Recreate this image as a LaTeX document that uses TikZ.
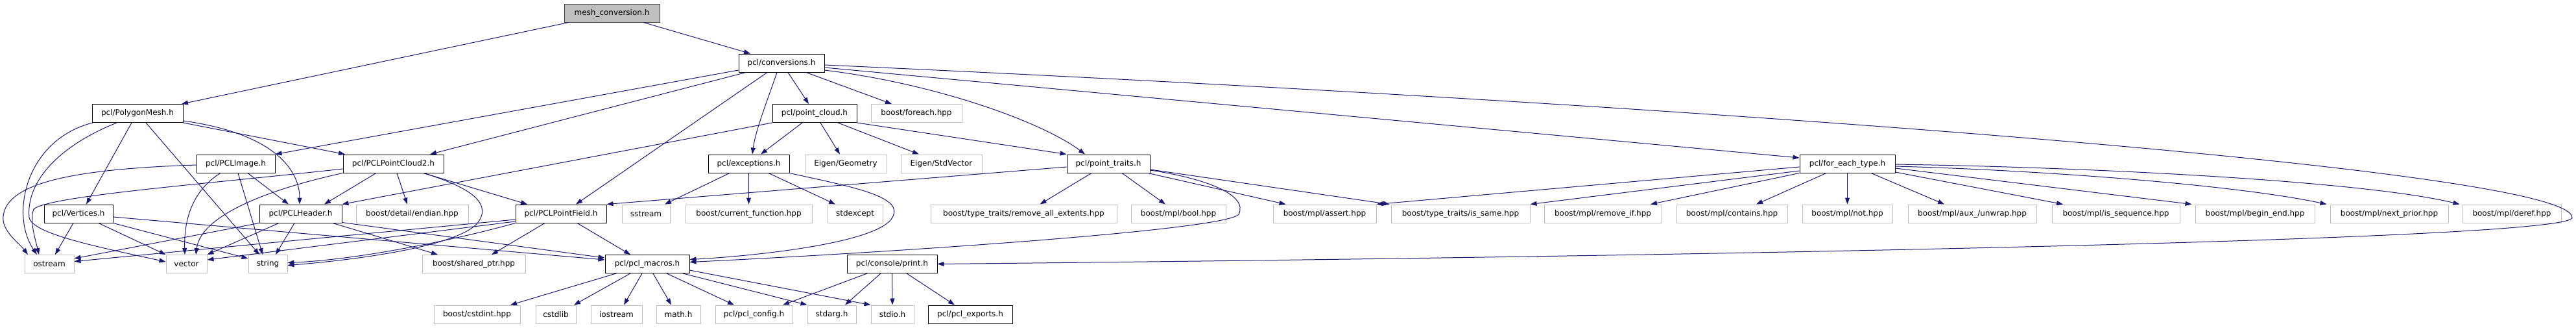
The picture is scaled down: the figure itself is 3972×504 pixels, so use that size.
\documentclass[tikz,border=0pt]{standalone}
\usepackage{fontspec}
\setmainfont{DejaVu Sans}
\usetikzlibrary{arrows.meta}
\definecolor{linkblue}{RGB}{25,25,112}
\definecolor{extgray}{RGB}{191,191,191}
\definecolor{docgray}{RGB}{64,64,64}
\tikzset{
  file/.style={draw, line width=1pt, inner sep=0pt, minimum height=28pt, font=\fontsize{12}{14}\selectfont},
  docfile/.style={file, draw=black},
  extfile/.style={file, draw=extgray},
  mainfile/.style={file, draw=docgray, fill=extgray},
  inclink/.style={draw=linkblue, line width=1pt, -{Triangle[length=10pt,width=7pt]}},
}
\begin{document}
\begin{tikzpicture}[x=1pt,y=-1pt]
\useasboundingbox (0,0) rectangle (3972,504);
% row 0 and 1
\node[mainfile, minimum width=147pt] (meshconv) at (943.5,20) {mesh\_conversion.h};
\node[docfile, minimum width=132pt] (conv) at (1205,97) {pcl/conversions.h};
% row 2
\node[docfile, minimum width=140pt] (polymesh) at (212,174.5) {pcl/PolygonMesh.h};
\node[docfile, minimum width=130pt] (ptcloud) at (1256,174.5) {pcl/point\_cloud.h};
\node[extfile, minimum width=140pt] (foreach) at (1413,174.5) {boost/foreach.hpp};
% row 3
\node[docfile, minimum width=121pt] (pclimage) at (363.5,252) {pcl/PCLImage.h};
\node[docfile, minimum width=155pt] (pcd2) at (606.5,252) {pcl/PCLPointCloud2.h};
\node[docfile, minimum width=125pt] (except) at (1154.5,252) {pcl/exceptions.h};
\node[extfile, minimum width=126pt] (eigengeo) at (1304,252) {Eigen/Geometry};
\node[extfile, minimum width=125pt] (eigenvec) at (1451.5,252) {Eigen/StdVector};
\node[docfile, minimum width=128pt] (ptraits) at (1709,252) {pcl/point\_traits.h};
\node[docfile, minimum width=147pt] (foreachtype) at (2848.5,252) {pcl/for\_each\_type.h};
% row 4
\node[docfile, minimum width=106pt] (vertices) at (121,329) {pcl/Vertices.h};
\node[docfile, minimum width=127pt] (header) at (463.5,329) {pcl/PCLHeader.h};
\node[extfile, minimum width=173pt] (endian) at (635.5,329) {boost/detail/endian.hpp};
\node[docfile, minimum width=140pt] (field) at (865,329) {pcl/PCLPointField.h};
\node[extfile, minimum width=74pt] (sstream) at (996,329) {sstream};
\node[extfile, minimum width=195pt] (curfunc) at (1154.5,329) {boost/current\_function.hpp};
\node[extfile, minimum width=85pt] (stdexcept) at (1318.5,329) {stdexcept};
\node[extfile, minimum width=287pt] (rmext) at (1578.5,329) {boost/type\_traits/remove\_all\_extents.hpp};
\node[extfile, minimum width=146pt] (mplbool) at (1817,329) {boost/mpl/bool.hpp};
\node[extfile, minimum width=159pt] (mplassert) at (2042.5,329) {boost/mpl/assert.hpp};
\node[extfile, minimum width=214pt] (issame) at (2252,329) {boost/type\_traits/is\_same.hpp};
\node[extfile, minimum width=181pt] (rmif) at (2471.5,329) {boost/mpl/remove\_if.hpp};
\node[extfile, minimum width=171pt] (contains) at (2670.5,329) {boost/mpl/contains.hpp};
\node[extfile, minimum width=139pt] (mplnot) at (2848.5,329) {boost/mpl/not.hpp};
\node[extfile, minimum width=198pt] (unwrap) at (3041,329) {boost/mpl/aux\_/unwrap.hpp};
\node[extfile, minimum width=197pt] (isseq) at (3262.5,329) {boost/mpl/is\_sequence.hpp};
\node[extfile, minimum width=184pt] (beginend) at (3477,329) {boost/mpl/begin\_end.hpp};
\node[extfile, minimum width=182pt] (nextprior) at (3684,329) {boost/mpl/next\_prior.hpp};
\node[extfile, minimum width=152pt] (deref) at (3873,329) {boost/mpl/deref.hpp};
% row 5
\node[extfile, minimum width=76pt] (ostream) at (76,406.5) {ostream};
\node[extfile, minimum width=63pt] (vector) at (287.5,406.5) {vector};
\node[extfile, minimum width=60pt] (string) at (413,406.5) {string};
\node[extfile, minimum width=159pt] (sharedptr) at (730.5,406.5) {boost/shared\_ptr.hpp};
\node[docfile, minimum width=130pt] (macros) at (998,406.5) {pcl/pcl\_macros.h};
\node[docfile, minimum width=139pt] (print) at (1375.5,406.5) {pcl/console/print.h};
% row 6
\node[extfile, minimum width=133pt] (cstdint) at (735.5,484) {boost/cstdint.hpp};
\node[extfile, minimum width=62pt] (cstdlib) at (857,484) {cstdlib};
\node[extfile, minimum width=79pt] (iostream) at (950.5,484) {iostream};
\node[extfile, minimum width=68pt] (mathh) at (1046,484) {math.h};
\node[extfile, minimum width=119pt] (config) at (1162.5,484) {pcl/pcl\_config.h};
\node[extfile, minimum width=75pt] (stdarg) at (1282.5,484) {stdarg.h};
\node[extfile, minimum width=66pt] (stdio) at (1376,484) {stdio.h};
\node[docfile, minimum width=130pt] (exports) at (1496,484) {pcl/pcl\_exports.h};
\coordinate (loopturn) at (3966,335);

% mesh_conversion.h
\draw[inclink] ([xshift=-66.5pt]meshconv.south) -- ([xshift=68pt]polymesh.north);
\draw[inclink] ([xshift=48.5pt]meshconv.south) -- ([xshift=-48pt]conv.north);
% pcl/conversions.h
\draw[inclink] ([yshift=-11pt]conv.west) -- (pclimage.north east);
\draw[inclink] ([xshift=-55pt]conv.south) -- ([xshift=56.5pt]pcd2.north);
\draw[inclink] ([xshift=-22pt]conv.south) -- ([xshift=23pt]field.north);
\draw[inclink] ([xshift=-7pt]conv.south) .. controls (1185,150) and (1165,200) .. ([xshift=5.5pt]except.north);
\draw[inclink] ([xshift=10pt]conv.south) -- ([xshift=-9pt]ptcloud.north);
\draw[inclink] ([xshift=38pt]conv.south) -- ([xshift=-38pt]foreach.north);
\draw[inclink] ([yshift=-11pt]conv.east) .. controls (1450,130) and (1610,190) .. ([xshift=-36pt]ptraits.north);
\draw[inclink] ([yshift=-7pt]conv.east) -- ([yshift=9pt]foreachtype.west);
\draw[inclink] ([yshift=-3pt]conv.east) .. controls (2600,160) and (3966,260) .. (loopturn)
  .. controls (3966,370) and (2600,395) .. (print.east);
% pcl/PolygonMesh.h
\draw[inclink] ([xshift=-69pt]polymesh.south) .. controls (40,215) and (15,330) .. ([xshift=-19pt]ostream.north);
\draw[inclink] ([xshift=-32pt]polymesh.south) .. controls (90,225) and (40,280) .. (45,335)
  .. controls (50,360) and (150,380) .. ([yshift=3.5pt]vector.west);
\draw[inclink] ([xshift=-9pt]polymesh.south) -- ([xshift=12pt]vertices.north);
\draw[inclink] ([xshift=13pt]polymesh.south) -- ([xshift=-13pt]string.north);
\draw[inclink] ([yshift=3pt]polymesh.south east) .. controls (420,205) and (462,260) .. ([xshift=-1.5pt]header.north);
\draw[inclink] (polymesh.south east) -- ([xshift=-74.5pt]pcd2.north);
% pcl/PCLImage.h
\draw[inclink] ([yshift=-2pt]pclimage.west) .. controls (120,260) and (10,280) .. (5,333)
  .. controls (2,355) and (30,375) .. ([xshift=-33pt]ostream.north);
\draw[inclink] ([xshift=-23.5pt]pclimage.south) .. controls (310,285) and (283,320) .. ([xshift=-2.5pt]vector.north);
\draw[inclink] ([xshift=3.5pt]pclimage.south) -- ([xshift=-8pt]string.north);
\draw[inclink] ([xshift=18.5pt]pclimage.south) -- ([xshift=-18.5pt]header.north);
% pcl/PCLPointCloud2.h
\draw[inclink] ([yshift=-8pt]pcd2.west) .. controls (300,285) and (75,302) .. (52,322)
  .. controls (45,340) and (55,370) .. ([xshift=-16pt]ostream.north);
\draw[inclink] (pcd2.south west) .. controls (420,290) and (310,330) .. ([xshift=14.5pt]vector.north);
\draw[inclink] ([xshift=-26.5pt]pcd2.south) -- ([xshift=36.5pt]header.north);
\draw[inclink] ([xshift=5.5pt]pcd2.south) -- ([xshift=-7.5pt]endian.north);
\draw[inclink] ([xshift=46.5pt]pcd2.south) -- ([xshift=-52pt]field.north);
\draw[inclink] ([xshift=46.5pt]pcd2.south) .. controls (730,290) and (760,315) .. (735,345)
  .. controls (700,380) and (550,400) .. ([yshift=-2pt]string.east);
% pcl/Vertices.h
\draw[inclink] ([xshift=-8pt]vertices.south) -- ([xshift=9pt]ostream.north);
\draw[inclink] ([xshift=31pt]vertices.south) -- (vector.north west);
\draw[inclink] (vertices.south east) -- ([yshift=8.5pt]string.west);
\draw[inclink] ([yshift=-5pt]vertices.east) -- ([yshift=6.5pt]macros.west);
% pcl/PCLHeader.h
\draw[inclink] (header.south west) -- ([yshift=8.5pt]ostream.east);
\draw[inclink] ([xshift=-33.5pt]header.south) -- (vector.north east);
\draw[inclink] ([xshift=-9.5pt]header.south) -- ([xshift=12pt]string.north);
\draw[inclink] ([xshift=49.5pt]header.south) -- ([xshift=-55.5pt]sharedptr.north);
\draw[inclink] ([yshift=1pt]header.south east) -- ([yshift=9.5pt]macros.west);
% pcl/PCLPointField.h
\draw[inclink] ([yshift=-9pt]field.west) -- ([yshift=4pt]ostream.east);
\draw[inclink] ([yshift=-12pt]field.west) -- ([yshift=6.5pt]vector.east);
\draw[inclink] (field.south west) .. controls (700,370) and (550,400) .. ([yshift=2pt]string.east);
\draw[inclink] ([xshift=-25pt]field.south) -- ([xshift=27.5pt]sharedptr.north);
\draw[inclink] ([xshift=25pt]field.south) -- ([xshift=-26pt]macros.north);
% pcl/exceptions.h
\draw[inclink] ([xshift=-29.5pt]except.south) -- ([xshift=29pt]sstream.north);
\draw[inclink] (except.south) -- (curfunc.north);
\draw[inclink] ([xshift=30.5pt]except.south) -- ([xshift=-30.5pt]stdexcept.north);
\draw[inclink] (except.south east) .. controls (1300,285) and (1388,300) .. (1378,330)
  .. controls (1368,375) and (1150,395) .. ([yshift=7pt]macros.east);
% pcl/point_cloud.h
\draw[inclink] (ptcloud.south west) -- (header.north east);
\draw[inclink] ([xshift=-19pt]ptcloud.south) -- ([xshift=18.5pt]except.north);
\draw[inclink] ([xshift=9pt]ptcloud.south) -- ([xshift=-9pt]eigengeo.north);
\draw[inclink] ([xshift=36pt]ptcloud.south) -- ([xshift=-34.5pt]eigenvec.north);
\draw[inclink] (ptcloud.south east) -- (ptraits.north west);
% pcl/point_traits.h
\draw[inclink] ([yshift=-5pt]ptraits.west) -- (field.north east);
\draw[inclink] ([xshift=-26pt]ptraits.south) -- ([xshift=25pt]rmext.north);
\draw[inclink] ([xshift=21pt]ptraits.south) -- ([xshift=-20pt]mplbool.north);
\draw[inclink] ([xshift=61pt]ptraits.south) -- ([xshift=-60pt]mplassert.north);
\draw[inclink] ([yshift=-9pt]ptraits.east) -- ([xshift=-2pt]issame.north west);
\draw[inclink] ([yshift=-10pt]ptraits.east) .. controls (1860,275) and (1925,300) .. (1910,330)
  .. controls (1890,355) and (1350,390) .. ([yshift=3pt]macros.east);
% pcl/for_each_type.h
\draw[inclink] ([yshift=-5pt]foreachtype.west) -- (mplassert.north east);
\draw[inclink] ([yshift=-11pt]foreachtype.west) -- (issame.north east);
\draw[inclink] (foreachtype.south west) -- ([xshift=73.5pt]rmif.north);
\draw[inclink] ([xshift=-32.5pt]foreachtype.south) -- ([xshift=37.5pt]contains.north);
\draw[inclink] (foreachtype.south) -- (mplnot.north);
\draw[inclink] ([xshift=36.5pt]foreachtype.south) -- ([xshift=-43pt]unwrap.north);
\draw[inclink] ([yshift=-13pt]foreachtype.east) -- ([xshift=-81.5pt]isseq.north);
\draw[inclink] ([yshift=-7pt]foreachtype.east) -- ([xshift=-5pt]beginend.north west);
\draw[inclink] ([yshift=-4pt]foreachtype.east) .. controls (3150,262) and (3450,285) .. ([xshift=-5pt]nextprior.north west);
\draw[inclink] ([yshift=-1pt]foreachtype.east) .. controls (3250,258) and (3650,280) .. ([xshift=-4pt]deref.north west);
% pcl/console/print.h
\draw[inclink] ([xshift=-38.5pt]print.south) -- ([xshift=44.5pt]config.north);
\draw[inclink] ([xshift=-17.5pt]print.south) -- ([xshift=20.5pt]stdarg.north);
\draw[inclink] (print.south) -- (stdio.north);
\draw[inclink] ([xshift=22.5pt]print.south) -- ([xshift=-24pt]exports.north);
% pcl/pcl_macros.h
\draw[inclink] ([xshift=-48pt]macros.south) -- ([xshift=51.5pt]cstdint.north);
\draw[inclink] ([xshift=-26pt]macros.south) -- ([xshift=28pt]cstdlib.north);
\draw[inclink] ([xshift=-8pt]macros.south) -- ([xshift=11.5pt]iostream.north);
\draw[inclink] ([xshift=9pt]macros.south) -- ([xshift=-11pt]mathh.north);
\draw[inclink] ([xshift=30pt]macros.south) -- ([xshift=-30.5pt]config.north);
\draw[inclink] ([xshift=55pt]macros.south) -- (stdarg.north west);
\draw[inclink] ([yshift=-9.5pt]macros.east) -- (stdio.north west);
\end{tikzpicture}
\end{document}
